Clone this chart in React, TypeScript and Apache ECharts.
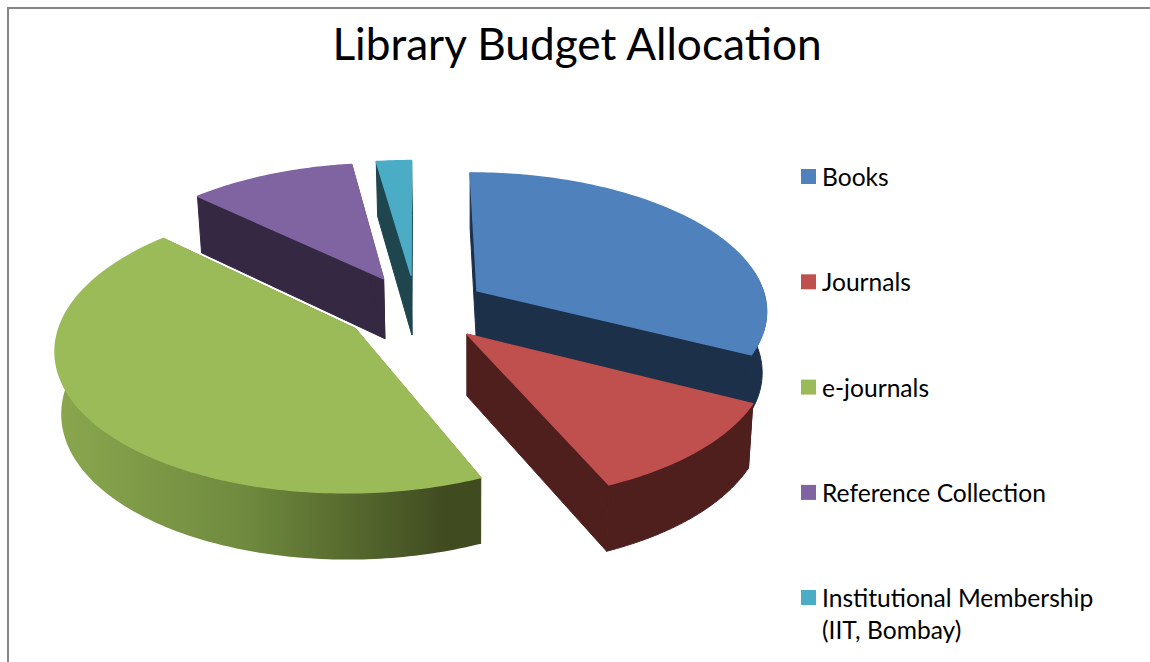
import React, { useEffect, useRef } from "react";
import * as echarts from "echarts";

// Budget shares, in percent
const categories = [
  "Books",
  "Journals",
  "e-journals",
  "Reference Collection",
  "Institutional Membership\n(IIT, Bombay)",
];
const shares = [32.5, 11, 43.6, 10.65, 2.25];

// Face colours per slice
const topColors = ["#4F81BD", "#C0504D", "#9BBB59", "#8064A2", "#4BACC6"];
const wallColors = ["#1C3049", "#4F1F1E", "#404B20", "#342842", "#1F454F"];
// Back slices are painted first so the nearer ones overlap them
const paintOrder = [3, 4, 5, 2, 1];

// Perspective pie geometry
const CX = 416;
const CY = 308.5;
const RX = 291;
const RY = 137.5;
const PERSPECTIVE = 0.129;
const EXPLODE = 0.25;
const VANISH_X = 470;
const SHRINK = 0.985;
const WALL_FROM = 82;
const WALL_TO = 272;
const FONT = "Lato";

const total = shares.reduce((a, b) => a + b, 0);
const startAngles = shares.map((_, i) =>
  (shares.slice(0, i).reduce((a, b) => a + b, 0) / total) * 360
);

type Pt = [number, number];

function topPoint(u: number, v: number): Pt {
  const s = 1 / (1 - PERSPECTIVE * v);
  return [CX + RX * u * s, CY + RY * v * s];
}

function bottomPoint(u: number, v: number): Pt {
  const [x, y] = topPoint(u, v);
  return [VANISH_X + (x - VANISH_X) * SHRINK, y + 61 + 5 * v];
}

function renderSlice(index: number) {
  return (_params: unknown, api: any) => {
    const value = api.value(0) as number;
    const a0 = startAngles[index];
    const a1 = a0 + (value / total) * 360;
    const mid = ((a0 + a1) / 2) * (Math.PI / 180);
    const ou = EXPLODE * Math.sin(mid);
    const ov = -EXPLODE * Math.cos(mid);

    const rim = (deg: number): [number, number] => {
      const t = (deg * Math.PI) / 180;
      return [ou + Math.sin(t), ov - Math.cos(t)];
    };
    const arcAngles = (from: number, to: number) => {
      const list: number[] = [];
      const steps = Math.max(2, Math.ceil(to - from));
      for (let i = 0; i <= steps; i++) list.push(from + ((to - from) * i) / steps);
      return list;
    };

    const children: any[] = [];
    const wall = {
      fill: wallColors[index],
      stroke: wallColors[index],
      lineWidth: 1,
      lineJoin: "round",
    };

    // Cut faces along the two radii
    [a0, a1].forEach((deg) => {
      const [u, v] = rim(deg);
      children.push({
        type: "polygon",
        shape: {
          points: [
            topPoint(ou, ov),
            topPoint(u, v),
            bottomPoint(u, v),
            bottomPoint(ou, ov),
          ],
        },
        style: wall,
      });
    });

    // Outer curved wall, only where it faces the viewer
    const from = Math.max(a0, WALL_FROM);
    const to = Math.min(a1, WALL_TO);
    if (to > from) {
      const angles = arcAngles(from, to);
      const upper = angles.map((d) => topPoint(...rim(d)));
      const lower = angles.map((d) => bottomPoint(...rim(d))).reverse();
      const shaded = categories[index] === "e-journals";
      children.push({
        type: "polygon",
        shape: { points: [...upper, ...lower] },
        style: shaded
          ? {
              fill: new echarts.graphic.LinearGradient(0, 0, 1, 0, [
                { offset: 0, color: "#8AA74F" },
                { offset: 0.45, color: "#6F8A3E" },
                { offset: 0.92, color: "#404B20" },
                { offset: 1, color: "#404B20" },
              ]),
            }
          : wall,
      });
    }

    // Top face, stroked in its own colour to hide the wall outlines behind it
    const arc = arcAngles(a0, a1).map((d) => topPoint(...rim(d)));
    children.push({
      type: "polygon",
      shape: { points: [topPoint(ou, ov), ...arc] },
      style: {
        fill: topColors[index],
        stroke: topColors[index],
        lineWidth: 1.4,
        lineJoin: "round",
      },
    });

    return { type: "group", children };
  };
}

const legendBase = {
  orient: "vertical",
  left: 796,
  height: 900,
  itemWidth: 15,
  itemHeight: 15,
  itemGap: 73.3,
  icon: "rect",
  selectedMode: false,
  textStyle: {
    fontFamily: FONT,
    fontSize: 24.6,
    lineHeight: 32,
    color: "#000000",
    padding: [0, 0, 0, 1],
  },
};

export default function App() {
  const ref = useRef<HTMLDivElement>(null);

  useEffect(() => {
    if (!ref.current) return;
    const chart = echarts.init(ref.current, undefined, { renderer: "svg" });
    chart.setOption({
      animation: false,
      backgroundColor: "#FFFFFF",
      title: {
        text: "Library Budget Allocation",
        left: 572,
        top: 15,
        textAlign: "center",
        textStyle: {
          fontFamily: FONT,
          fontSize: 44.2,
          fontWeight: "normal",
          color: "#000000",
        },
      },
      legend: [
        { ...legendBase, top: 155.5, data: categories.slice(0, 4) },
        {
          ...legendBase,
          top: 544.5,
          data: categories.slice(4),
          // A blank first line keeps the marker level with the first line of the wrapped name
          formatter: (name: string) => "\n" + name,
        },
      ],
      graphic: [
        {
          type: "polyline",
          silent: true,
          shape: { points: [[8, 662], [8, 8], [1150, 8]] },
          style: { fill: "none", stroke: "#868686", lineWidth: 2 },
        },
      ],
      series: categories.map((name, i) => ({
        type: "custom",
        name,
        coordinateSystem: "none",
        z: paintOrder[i],
        silent: true,
        itemStyle: { color: topColors[i] },
        data: [shares[i]],
        renderItem: renderSlice(i),
      })),
    });
    return () => chart.dispose();
  }, []);

  return (
    <div
      ref={ref}
      style={{ position: "absolute", left: 0, top: 0, width: 1150, height: 662 }}
    />
  );
}
